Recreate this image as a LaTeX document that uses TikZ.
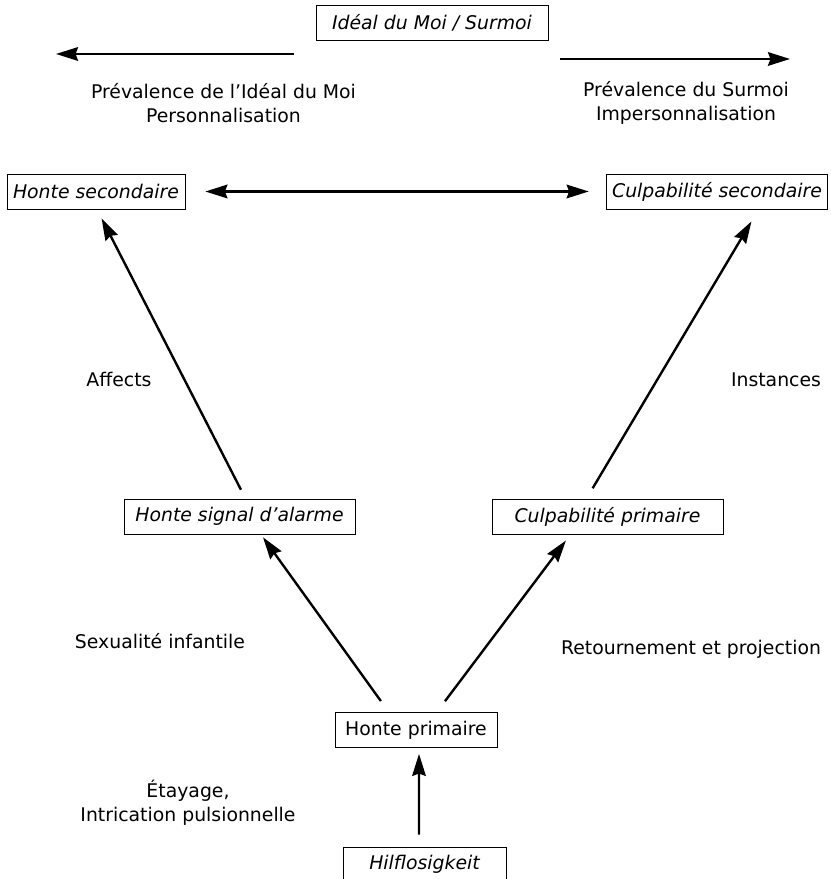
\documentclass[tikz,border=0pt]{standalone}
\usepackage{fontspec}
\setmainfont{DejaVu Sans}
\usetikzlibrary{arrows.meta}

\begin{document}
\begin{tikzpicture}[scale=1.0,
    every node/.style={font=\fontsize{13.4}{17}\selectfont},
    boite/.style={draw, line width=0.6pt, inner xsep=0.15cm, minimum height=0.875cm},
    pointe/.tip={Stealth[length=0.55cm, width=0.34cm, inset=0.06cm]},
    fleche/.style={line width=1.7pt, -pointe},
    legende/.style={align=center}]
    \useasboundingbox (0,0) rectangle (20.75,21.975);
    % instances en haut
    \node[boite, minimum width=5.8cm] (ideal) at (10.8,21.4) {\itshape Idéal du Moi / Surmoi};
    \coordinate (gaucheDe) at (7.35,20.625);
    \coordinate (gaucheA) at (1.4,20.625);
    \coordinate (droiteDe) at (14.0,20.5);
    \coordinate (droiteA) at (19.75,20.5);
    \draw[fleche] (gaucheDe) -- (gaucheA);
    \draw[fleche] (droiteDe) -- (droiteA);
    \node[legende] (prevIdeal) at (5.5875,19.4) {Prévalence de l'Idéal du Moi\\Personnalisation};
    \node[legende] (prevSurmoi) at (17.15,19.4) {Prévalence du Surmoi\\Impersonnalisation};
    % niveau secondaire
    \node[boite] (honteSec) at (2.4,17.1875) {\itshape Honte secondaire};
    \node[boite] (culpSec) at (17.925,17.1875) {\itshape Culpabilité secondaire};
    \draw[fleche, pointe-pointe, shorten <=0.5cm, shorten >=0.425cm] (honteSec.east) -- (culpSec.west);
    % niveau primaire
    \node[boite, minimum width=5.775cm] (honteSig) at (5.9875,9.0625) {\itshape Honte signal d'alarme};
    \node[boite, minimum width=5.775cm] (culpPrim) at (15.1875,9.0625) {\itshape Culpabilité primaire};
    \draw[fleche, shorten <=0.25cm, shorten >=0.25cm] ([xshift=0.15cm]honteSig.north) -- ([xshift=0.025cm]honteSec.south);
    \draw[fleche, shorten <=0.3cm, shorten >=0.35cm] ([xshift=-0.525cm]culpPrim.north) -- ([xshift=1.04cm]culpSec.south);
    \node (affects) at (2.975,12.5) {Affects};
    \node (instances) at (19.4,12.475) {Instances};
    % honte primaire
    \node[boite, minimum width=4.05cm] (hontePrim) at (10.4,3.725) {Honte primaire};
    \draw[fleche, shorten <=0.34cm, shorten >=0.09cm] ([xshift=-0.68cm]hontePrim.north) -- ([xshift=0.535cm]honteSig.south);
    \draw[fleche, shorten <=0.34cm, shorten >=0.19cm] ([xshift=0.52cm]hontePrim.north) -- ([xshift=-0.925cm]culpPrim.south);
    \node (sexualite) at (4.0,5.95) {Sexualité infantile};
    \node (retournement) at (17.275,5.75) {Retournement et projection};
    % Hilflosigkeit, coupee en bas
    \node[boite, minimum width=4.075cm] (hilflos) at (10.6125,0.3625) {\itshape Hilflosigkeit};
    \draw[fleche, shorten <=0.3cm, shorten >=0.15cm] ([xshift=-0.1375cm]hilflos.north) -- ([xshift=0.075cm]hontePrim.south);
    \node[legende] (etayage) at (4.7,1.9125) {Étayage,\\Intrication pulsionnelle};
  \end{tikzpicture}
\end{document}
